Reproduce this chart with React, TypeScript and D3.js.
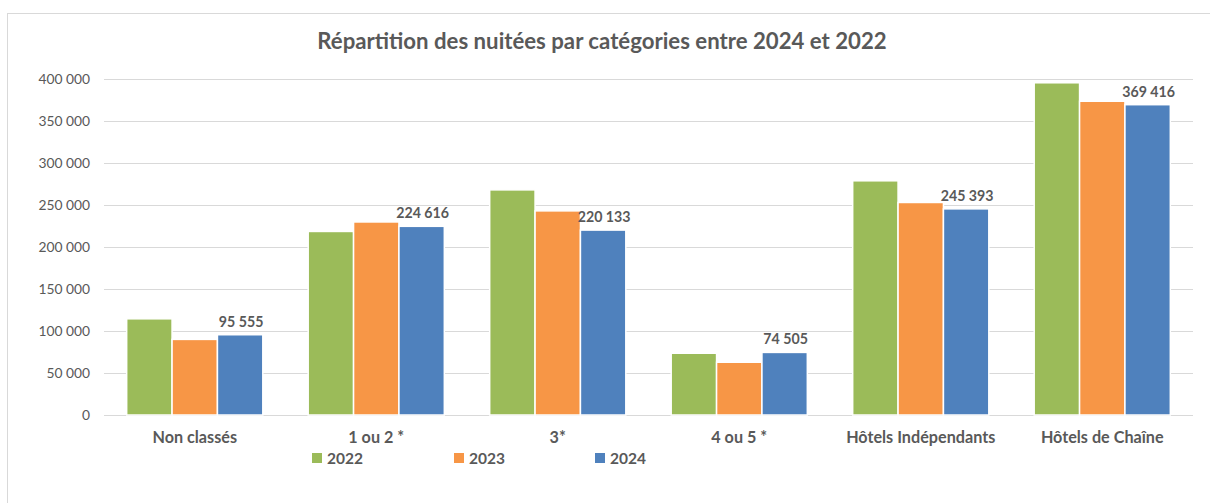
import React from "react";
import * as d3 from "d3";

const categories = ["Non classés", "1 ou 2 *", "3*", "4 ou 5 *", "Hôtels Indépendants", "Hôtels de Chaîne"];
const years = ["2022", "2023", "2024"];
const values2022 = [114500, 218500, 268000, 73500, 278800, 395500];
const values2023 = [90000, 229800, 243000, 62800, 253000, 373500];
const values2024 = [95555, 224616, 220133, 74505, 245393, 369416];
const yTicks = [0, 50000, 100000, 150000, 200000, 250000, 300000, 350000, 400000];
const title = "Répartition des nuitées par catégories entre 2024 et 2022";

const colors = ["#9BBB59", "#F79646", "#4F81BD"];
const seriesValues = [values2022, values2023, values2024];
const textColor = "#595959";
const font = "Lato, 'Open Sans', sans-serif";

const fmt = (v: number) => {
  const s = Math.round(v).toString();
  return s.replace(/\B(?=(\d{3})+(?!\d))/g, " ");
};

export default function App() {
  const W = 1210, H = 503;
  const left = 104, right = 1193, top = 79, bottom = 415;
  const x = d3.scaleBand<string>().domain(categories).range([left, right]).paddingInner(0.25).paddingOuter(0.125);
  const xs = d3.scaleBand<string>().domain(years).range([0, x.bandwidth()]);
  const y = d3.scaleLinear().domain([0, 400000]).range([bottom, top]);

  const legendX = [312, 454, 595];

  return (
    <svg width={W} height={H} style={{ position: "absolute", left: 0, top: 0, background: "#fff" }} fontFamily={font}>
      <rect x={7.5} y={13.5} width={1210} height={500} fill="#fff" stroke="#d9d9d9" strokeWidth={1} />
      <text x={602} y={49} textAnchor="middle" fontSize={22.2} fontWeight="bold" fill={textColor}>{title}</text>
      {yTicks.map((t) => (
        <g key={t}>
          <line x1={left} x2={right} y1={Math.round(y(t)) + 0.5} y2={Math.round(y(t)) + 0.5} stroke="#d9d9d9" strokeWidth={1} />
          <text x={90} y={y(t) + 5} textAnchor="end" fontSize={13.8} fill={textColor}>{fmt(t)}</text>
        </g>
      ))}
      {categories.map((c, i) => (
        <g key={c}>
          {years.map((yr, j) => {
            const v = seriesValues[j][i];
            const bx = (x(c) as number) + (xs(yr) as number);
            return (
              <rect key={yr} x={bx} y={y(v)} width={xs.bandwidth()} height={y(0) - y(v)} fill={colors[j]} stroke="#fff" strokeWidth={1.5} />
            );
          })}
          <text x={(x(c) as number) + (xs("2024") as number) + xs.bandwidth() / 2 + 1} y={y(values2024[i]) - 8} textAnchor="middle" fontSize={14.2} fontWeight="bold" fill={textColor}>
            {fmt(values2024[i])}
          </text>
          <text x={(x(c) as number) + x.bandwidth() / 2} y={443} textAnchor="middle" fontSize={16.2} fontWeight="bold" fill={textColor}>{c}</text>
        </g>
      ))}
      {years.map((yr, j) => (
        <g key={yr}>
          <rect x={legendX[j]} y={453} width={10} height={10} fill={colors[j]} />
          <text x={legendX[j] + 15} y={464} fontSize={15.5} fontWeight="bold" fill={textColor}>{yr}</text>
        </g>
      ))}
    </svg>
  );
}
